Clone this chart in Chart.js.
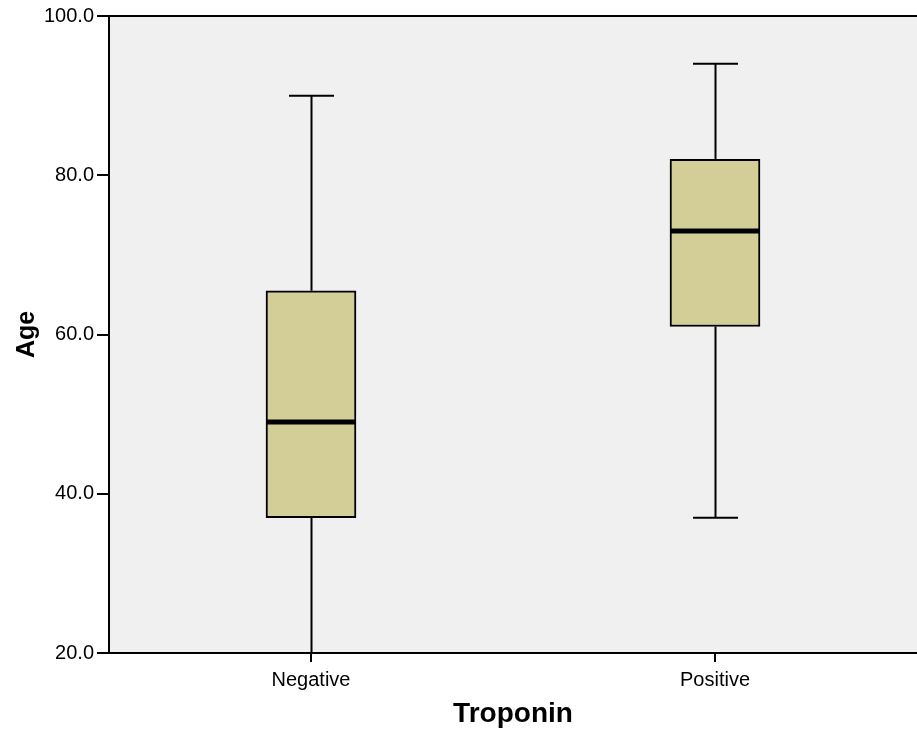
<!DOCTYPE html>
<html>
<head>
<meta charset="utf-8">
<script src="https://cdn.jsdelivr.net/npm/chart.js@4.4.0/dist/chart.umd.min.js"></script>
<style>
  html, body { margin: 0; padding: 0; background: #fff; }
  #wrap { width: 917px; height: 729px; }
</style>
</head>
<body>
<div id="wrap"><canvas id="grafico"></canvas></div>
<script>
// Age by Troponin - boxplot values
const categorias = ["Negative", "Positive"];
const minimos = [20, 37];
const q1 = [37, 61];
const medianas = [49, 73];
const q3 = [65.5, 82];
const maximos = [90, 94];
const yTicks = [20, 40, 60, 80, 100];

const LARGURA_CAIXA = 90;

// fundo cinza da area do grafico + borda de cima
const fundoPlugin = {
    id: "fundo",
    beforeDraw(chart) {
        const { ctx, chartArea: a } = chart;
        ctx.save();
        ctx.fillStyle = "#f0f0f0";
        ctx.fillRect(a.left, a.top, a.right - a.left, a.bottom - a.top);
        ctx.strokeStyle = "#000";
        ctx.lineWidth = 2;
        ctx.beginPath();
        ctx.moveTo(a.left, a.top);
        ctx.lineTo(a.right, a.top);
        ctx.stroke();
        ctx.restore();
    }
};

// bigodes e mediana
const boxPlugin = {
    id: "bigodes",
    beforeDatasetsDraw(chart) {
        const { ctx, scales: { x, y } } = chart;
        ctx.save();
        ctx.strokeStyle = "#000";
        ctx.lineWidth = 2;
        categorias.forEach((c, i) => {
            const cx = Math.round(x.getPixelForValue(i)) + 0.5;
            const half = LARGURA_CAIXA / 4;
            ctx.beginPath();
            ctx.moveTo(cx, y.getPixelForValue(q3[i]));
            ctx.lineTo(cx, y.getPixelForValue(maximos[i]));
            ctx.moveTo(cx, y.getPixelForValue(q1[i]));
            ctx.lineTo(cx, y.getPixelForValue(minimos[i]));
            ctx.moveTo(cx - half, y.getPixelForValue(maximos[i]));
            ctx.lineTo(cx + half, y.getPixelForValue(maximos[i]));
            ctx.moveTo(cx - half, y.getPixelForValue(minimos[i]));
            ctx.lineTo(cx + half, y.getPixelForValue(minimos[i]));
            ctx.stroke();
        });
        ctx.restore();
    },
    afterDatasetsDraw(chart) {
        const { ctx, scales: { x, y } } = chart;
        ctx.save();
        ctx.strokeStyle = "#000";
        ctx.lineWidth = 5;
        categorias.forEach((c, i) => {
            const cx = x.getPixelForValue(i);
            const half = LARGURA_CAIXA / 2;
            const my = y.getPixelForValue(medianas[i]);
            ctx.beginPath();
            ctx.moveTo(cx - half, my);
            ctx.lineTo(cx + half, my);
            ctx.stroke();
        });
        ctx.restore();
    }
};

const ctx = document.getElementById("grafico");

new Chart(ctx, {
    type: "bar",
    data: {
        labels: categorias,
        datasets: [{
            label: "Age",
            data: categorias.map((c, i) => [q1[i], q3[i]]),
            backgroundColor: "#d3ce98",
            borderColor: "#000",
            borderWidth: 2,
            borderSkipped: false,
            barThickness: LARGURA_CAIXA
        }]
    },
    options: {
        responsive: true,
        maintainAspectRatio: false,
        animation: false,
        layout: { padding: { top: 16, right: 0, left: 0, bottom: 0 } },
        plugins: {
            legend: { display: false },
            tooltip: { enabled: false }
        },
        scales: {
            x: {
                offset: true,
                grid: {
                    offset: false,
                    drawOnChartArea: false,
                    drawTicks: true,
                    tickLength: 9,
                    color: "#000",
                    lineWidth: 2
                },
                border: { color: "#000", width: 2 },
                ticks: {
                    color: "#000",
                    padding: 6,
                    font: { family: "Liberation Sans, Arial", size: 20 }
                },
                title: {
                    display: true,
                    text: "Troponin",
                    color: "#000",
                    padding: { top: 0, bottom: 1 },
                    font: { family: "Liberation Sans, Arial", size: 28, weight: "bold", lineHeight: 1 }
                },
                afterFit(scale) { scale.height = 76; }
            },
            y: {
                min: 20,
                max: 100,
                afterBuildTicks(scale) {
                    scale.ticks = yTicks.map(v => ({ value: v }));
                },
                grid: {
                    drawOnChartArea: false,
                    drawTicks: true,
                    tickLength: 12,
                    color: "#000",
                    lineWidth: 2
                },
                border: { color: "#000", width: 2 },
                ticks: {
                    color: "#000",
                    padding: 3,
                    font: { family: "Liberation Sans, Arial", size: 20 },
                    callback: v => Number(v).toFixed(1)
                },
                title: {
                    display: true,
                    text: "Age",
                    color: "#000",
                    padding: { top: 12, bottom: 0 },
                    font: { family: "Liberation Sans, Arial", size: 25, weight: "bold", lineHeight: 1.2 }
                },
                afterFit(scale) { scale.width = 109; }
            }
        }
    },
    plugins: [fundoPlugin, boxPlugin]
});
</script>
</body>
</html>
